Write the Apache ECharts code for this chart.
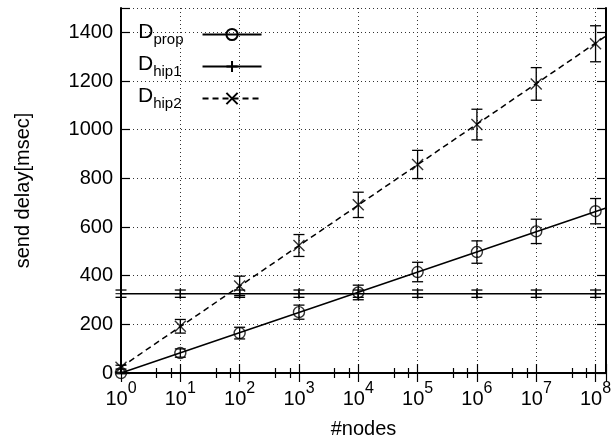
<!DOCTYPE html>
<html>
<head>
<meta charset="utf-8">
<script src="https://cdn.jsdelivr.net/npm/echarts@6/dist/echarts.min.js"></script>
<style>
html,body{margin:0;padding:0;background:#fff;}
#c{width:612px;height:437px;}
</style>
</head>
<body>
<div id="c"></div>
<script>
// ---- data ----
var nodes = [1, 10, 1e2, 1e3, 1e4, 1e5, 1e6, 1e7, 1e8];
var propVals = [0, 82, 164, 250, 331, 415, 497, 582, 665];
var propErr  = [3, 17, 24, 29, 30, 40, 46, 50, 52];
var hip1Vals = [326, 326, 326, 326, 326, 326, 326, 326, 326];
var hip1Err  = [15, 15, 15, 15, 15, 15, 15, 15, 15];
var hip2Vals = [24, 192, 358, 524, 691, 857, 1021, 1188, 1353];
var hip2Err  = [8, 28, 40, 45, 52, 58, 63, 67, 74];
// fitted lines (end points)
var fitX = [1, 1.5e8];
var propFit = [0, 678];
var hip1Fit = [326, 326];
var hip2Fit = [24, 1385];
var seriesNames = ['prop', 'hip1', 'hip2'];
var yTicks = [0, 200, 400, 600, 800, 1000, 1200, 1400];

var FONT = 'Liberation Sans, Arial, Helvetica, sans-serif';

function pairs(xs, ys) { return xs.map(function (x, i) { return [x, ys[i]]; }); }
function errData(xs, ys, es) { return xs.map(function (x, i) { return [x, ys[i] - es[i], ys[i] + es[i]]; }); }

function errorBarSeries(data) {
  return {
    type: 'custom',
    silent: true,
    z: 3,
    data: data,
    encode: { x: 0, y: [1, 2] },
    renderItem: function (params, api) {
      var x = api.value(0);
      var lo = api.coord([x, api.value(1)]);
      var hi = api.coord([x, api.value(2)]);
      var w = 5.5;
      var st = { stroke: '#000', lineWidth: 1.3 };
      return {
        type: 'group',
        children: [
          { type: 'line', shape: { x1: lo[0], y1: lo[1], x2: hi[0], y2: hi[1] }, style: st },
          { type: 'line', shape: { x1: lo[0] - w, y1: lo[1], x2: lo[0] + w, y2: lo[1] }, style: st },
          { type: 'line', shape: { x1: hi[0] - w, y1: hi[1], x2: hi[0] + w, y2: hi[1] }, style: st }
        ]
      };
    }
  };
}

var SYM_CIRCLE = 'circle';
var SYM_PLUS = 'path://M5 0L5 10M0 5L10 5';
var SYM_CROSS = 'path://M0 0L10 10M10 0L0 10';

var markerStyle = { color: 'none', borderColor: '#000', borderWidth: 1.4 };

function fitSeries(name, ys, symbol, dashed) {
  return {
    name: name,
    type: 'line',
    data: pairs(fitX, ys),
    showSymbol: false,
    symbol: symbol,
    symbolSize: 11,
    lineStyle: { color: '#000', width: 1.5, type: dashed ? [6, 4] : 'solid' },
    itemStyle: markerStyle,
    z: 2,
    silent: true,
    animation: false
  };
}
function markerSeries(ys, symbol) {
  return {
    type: 'scatter',
    data: pairs(nodes, ys),
    symbol: symbol,
    symbolSize: 11,
    itemStyle: markerStyle,
    z: 4,
    silent: true
  };
}

var measureCtx = document.createElement('canvas').getContext('2d');
measureCtx.font = '15px ' + FONT;
var SUB_BOX = 44;
function legendLabel(name) {
  var w = measureCtx.measureText(name).width;
  var pad = Math.max(1, Math.min(40, Math.round(SUB_BOX - w)));
  return '{d|D}{s|' + name + '}{g' + pad + '| }';
}
var richLegend = {
  d: { fontSize: 21, lineHeight: 25, verticalAlign: 'top', fontFamily: FONT, color: '#000' },
  s: { fontSize: 15, lineHeight: 15, verticalAlign: 'bottom', fontFamily: FONT, color: '#000' }
};
for (var p = 1; p <= 40; p++) {
  richLegend['g' + p] = { width: p, fontSize: 1, lineHeight: 1 };
}

var chart = echarts.init(document.getElementById('c'), null, { renderer: 'canvas' });

var option = {
  animation: false,
  backgroundColor: '#fff',
  textStyle: { fontFamily: FONT },
  grid: { left: 121, right: 6, top: 8, bottom: 64, containLabel: false, outerBoundsMode: 'none' },
  legend: {
    data: seriesNames,
    orient: 'vertical',
    left: 138,
    top: 22,
    padding: 0,
    itemGap: 7,
    itemWidth: 59,
    itemHeight: 14,
    align: 'right',
    selectedMode: false,
    formatter: legendLabel,
    textStyle: {
      color: '#000',
      fontFamily: FONT,
      rich: richLegend
    }
  },
  xAxis: [{
    type: 'log',
    logBase: 10,
    min: 1,
    max: 1.5e8,
    splitNumber: 8,
    position: 'bottom',
    name: '#nodes',
    nameLocation: 'middle',
    nameGap: 46,
    nameTextStyle: { fontSize: 20, color: '#000', fontFamily: FONT },
    axisLine: { show: true, lineStyle: { color: '#000', width: 2 } },
    axisTick: { show: true, inside: true, length: 9, lineStyle: { color: '#000', width: 1.2 } },
    minorTick: { show: true, splitNumber: 3, length: 5, lineStyle: { color: '#000', width: 1.2 } },
    splitLine: { show: true, lineStyle: { color: '#333', width: 1, type: [1, 3] } },
    axisLabel: {
      margin: 8,
      color: '#000',
      formatter: function (v) {
        var e = Math.log10(v);
        var r = Math.round(e);
        if (Math.abs(e - r) > 1e-6) return '';
        return '{b|10}{s|' + r + '}';
      },
      rich: {
        b: { fontSize: 20, lineHeight: 28, verticalAlign: 'bottom', fontFamily: FONT, color: '#000' },
        s: { fontSize: 16, lineHeight: 16, verticalAlign: 'top', fontFamily: FONT, color: '#000' }
      }
    }
  }, {
    type: 'log',
    logBase: 10,
    min: 1,
    max: 1.5e8,
    splitNumber: 8,
    position: 'top',
    axisLine: { show: true, lineStyle: { color: '#000', width: 2 } },
    axisTick: { show: true, inside: true, length: 9, lineStyle: { color: '#000', width: 1.2 } },
    minorTick: { show: true, splitNumber: 3, length: 5, lineStyle: { color: '#000', width: 1.2 } },
    splitLine: { show: false },
    axisLabel: { show: false }
  }],
  yAxis: [{
    type: 'value',
    min: 0,
    max: 1500,
    interval: 200,
    position: 'left',
    name: 'send delay[msec]',
    nameLocation: 'middle',
    nameGap: 88,
    nameRotate: 90,
    nameTextStyle: { fontSize: 20, color: '#000', fontFamily: FONT },
    axisLine: { show: true, lineStyle: { color: '#000', width: 2 } },
    axisTick: { show: true, inside: true, length: 9, lineStyle: { color: '#000', width: 1.2 } },
    splitLine: { show: true, lineStyle: { color: '#333', width: 1, type: [1, 3] } },
    axisLabel: {
      margin: 8,
      fontSize: 20,
      color: '#000',
      fontFamily: FONT,
      formatter: function (v) { return yTicks.indexOf(v) >= 0 ? String(v) : ''; }
    }
  }, {
    type: 'value',
    min: 0,
    max: 1500,
    interval: 200,
    position: 'right',
    axisLine: { show: true, lineStyle: { color: '#000', width: 2 } },
    axisTick: { show: true, inside: true, length: 9, lineStyle: { color: '#000', width: 1.2 } },
    splitLine: { show: false },
    axisLabel: { show: false }
  }],
  series: [
    fitSeries('prop', propFit, SYM_CIRCLE, false),
    fitSeries('hip1', hip1Fit, SYM_PLUS, false),
    fitSeries('hip2', hip2Fit, SYM_CROSS, true),
    errorBarSeries(errData(nodes, propVals, propErr)),
    errorBarSeries(errData(nodes, hip1Vals, hip1Err)),
    errorBarSeries(errData(nodes, hip2Vals, hip2Err)),
    markerSeries(propVals, SYM_CIRCLE),
    markerSeries(hip1Vals, SYM_PLUS),
    markerSeries(hip2Vals, SYM_CROSS)
  ]
};
chart.setOption(option);
</script>
</body>
</html>
